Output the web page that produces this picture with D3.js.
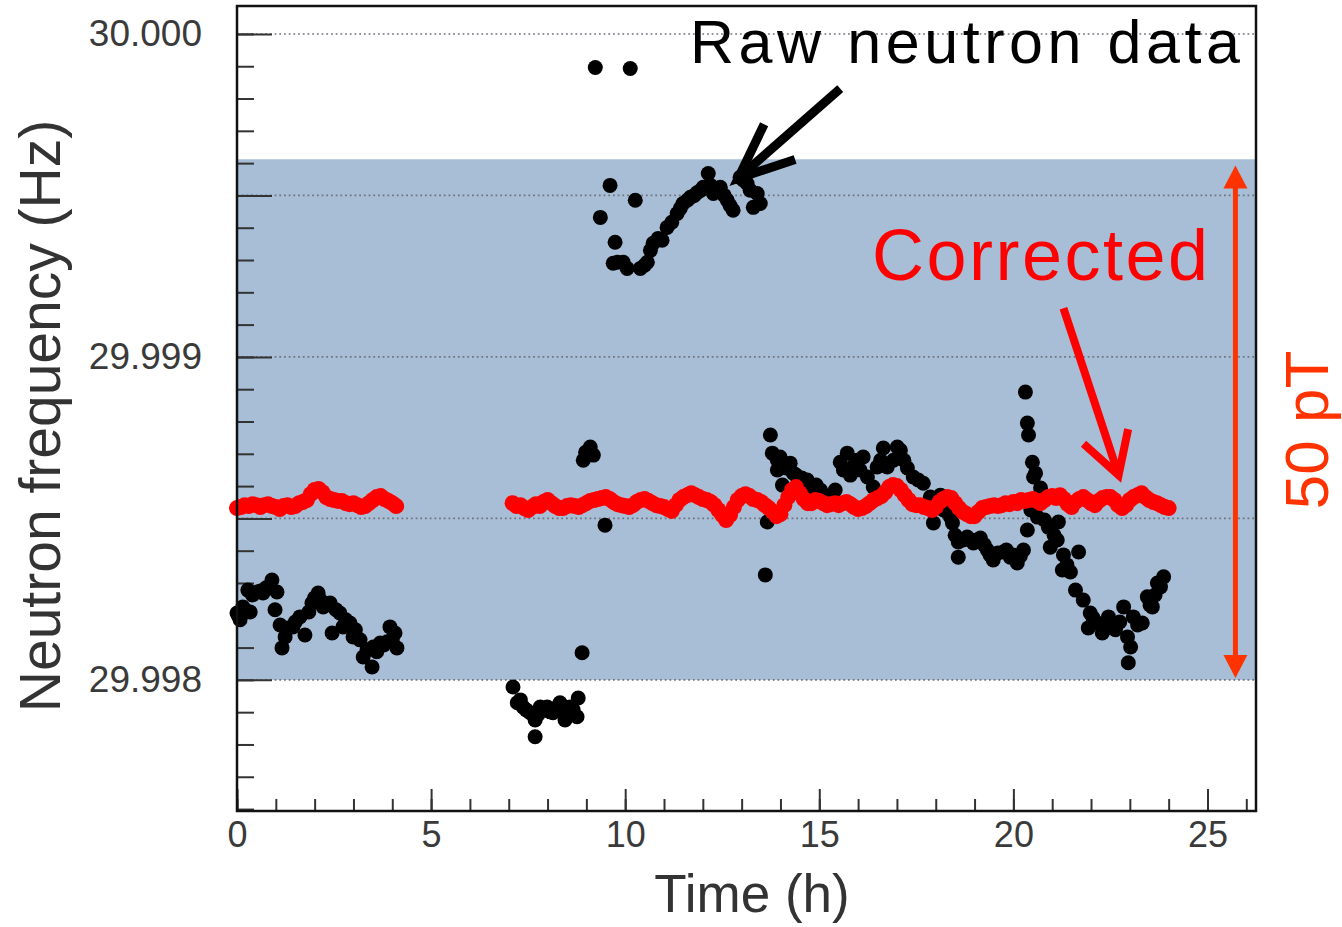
<!DOCTYPE html>
<html><head><meta charset="utf-8">
<script src="https://cdn.jsdelivr.net/npm/d3@7"></script>
<style>html,body{margin:0;padding:0;background:#fff;}svg{display:block;}</style>
</head><body>
<svg id="c" width="1342" height="927"></svg>
<script>
// ---------------- data ----------------
const xTicksMajor = [0, 5, 10, 15, 20, 25];
const xTicksMinor = d3.range(0, 27, 1);
const yTickLabels = [29.998, 29.999, 30.000];
const yGridValues = [29.998, 29.9985, 29.999, 29.9995, 30.000];
const yTicksMinor = d3.range(0, 25).map(i => +(29.9976 + i * 0.0001).toFixed(4));
const bandRange = [29.998, 29.999612];   // 50 pT band

// Raw neutron data [time (h), frequency (Hz)]
const rawA = [[0.00,29.998207],[0.04,29.998198],[0.08,29.998186],[0.15,29.998226],[0.20,29.998217],[0.28,29.998278],[0.34,29.998210],[0.40,29.998263],[0.52,29.998272],[0.60,29.998275],[0.67,29.998269],[0.75,29.998285],[0.90,29.998309],[0.98,29.998217],[1.03,29.998272],[1.11,29.998170],[1.16,29.998099],[1.24,29.998133],[1.30,29.998161],[1.44,29.998164],[1.50,29.998179],[1.62,29.998195],[1.75,29.998139],[1.85,29.998210],[1.93,29.998238],[2.00,29.998254],[2.09,29.998269],[2.15,29.998247],[2.22,29.998226],[2.30,29.998232],[2.40,29.998238],[2.45,29.998145],[2.55,29.998217],[2.65,29.998207],[2.73,29.998164],[2.80,29.998186],[2.91,29.998176],[2.99,29.998133],[3.05,29.998155],[3.17,29.998124],[3.25,29.998071],[3.35,29.998093],[3.48,29.998040],[3.51,29.998102],[3.60,29.998087],[3.69,29.998114],[3.78,29.998108],[3.87,29.998118],[3.94,29.998164],[4.00,29.998124],[4.07,29.998145],[4.12,29.998099]];
const rawB = [[7.11,29.997978],[7.22,29.997929],[7.30,29.997938],[7.37,29.997916],[7.45,29.997907],[7.55,29.997898],[7.68,29.997876],[7.68,29.997824],[7.75,29.997892],[7.81,29.997916],[7.90,29.997907],[7.99,29.997916],[8.07,29.997901],[8.14,29.997898],[8.22,29.997913],[8.32,29.997929],[8.45,29.997876],[8.50,29.997901],[8.58,29.997916],[8.66,29.997907],[8.76,29.997886],[8.79,29.997944],[8.89,29.998084],[8.92,29.998680],[8.98,29.998705],[9.10,29.998721],[9.18,29.998696],[9.48,29.998479]];
const rawC = [[9.23,29.999896],[9.36,29.999432],[9.61,29.999531],[9.69,29.999290],[9.74,29.999355],[9.80,29.999293],[9.95,29.999293],[10.05,29.999274],[10.13,29.999893],[10.26,29.999485],[10.39,29.999274],[10.50,29.999284],[10.57,29.999293],[10.65,29.999330],[10.72,29.999352],[10.85,29.999367],[10.95,29.999361],[11.08,29.999401],[11.20,29.999417],[11.34,29.999444],[11.42,29.999460],[11.49,29.999475],[11.60,29.999485],[11.68,29.999494],[11.78,29.999500],[11.86,29.999509],[11.95,29.999516],[12.01,29.999525],[12.14,29.999568],[12.20,29.999531],[12.27,29.999506],[12.36,29.999516],[12.45,29.999525],[12.55,29.999500],[12.63,29.999485],[12.70,29.999469],[12.78,29.999454],[12.96,29.999556],[13.05,29.999547],[13.14,29.999537],[13.22,29.999516],[13.30,29.999463],[13.40,29.999506],[13.48,29.999475]];
const rawD = [[13.61,29.998325],[13.66,29.998489],[13.74,29.998758],[13.79,29.998702],[13.92,29.998680],[13.92,29.998650],[13.99,29.998690],[14.05,29.998603],[14.07,29.998665],[14.15,29.998656],[14.25,29.998671],[14.33,29.998640],[14.40,29.998634],[14.46,29.998619],[14.55,29.998625],[14.69,29.998619],[14.82,29.998597],[14.92,29.998603],[15.03,29.998588],[15.12,29.998572],[15.21,29.998547],[15.41,29.998588],[15.54,29.998674],[15.62,29.998650],[15.72,29.998702],[15.80,29.998634],[15.90,29.998665],[15.98,29.998680],[16.05,29.998650],[16.13,29.998690],[16.24,29.998628],[16.39,29.998597],[16.49,29.998659],[16.58,29.998680],[16.65,29.998718],[16.75,29.998659],[16.91,29.998680],[17.01,29.998721],[17.09,29.998711],[17.18,29.998680],[17.27,29.998656],[17.42,29.998628],[17.55,29.998619],[17.68,29.998609],[17.86,29.998566],[17.94,29.998486],[18.05,29.998557],[18.12,29.998572],[18.20,29.998526],[18.30,29.998520],[18.38,29.998504],[18.43,29.998486],[18.50,29.998448],[18.58,29.998427],[18.58,29.998380],[18.70,29.998433],[18.81,29.998442],[18.90,29.998433],[18.97,29.998424],[19.06,29.998433],[19.15,29.998439],[19.25,29.998418],[19.33,29.998402],[19.40,29.998387],[19.48,29.998371],[19.60,29.998393],[19.74,29.998396],[19.82,29.998402],[19.92,29.998380],[20.00,29.998387],[20.10,29.998362],[20.18,29.998384],[20.26,29.998402],[20.31,29.998891],[20.36,29.998795],[20.36,29.998464],[20.39,29.998758],[20.45,29.998526],[20.49,29.998674],[20.52,29.998628],[20.57,29.998640],[20.62,29.998504],[20.70,29.998594],[20.80,29.998495],[20.90,29.998473],[20.95,29.998411],[21.05,29.998448],[21.13,29.998433],[21.16,29.998489],[21.26,29.998340],[21.29,29.998387],[21.38,29.998356],[21.47,29.998334],[21.60,29.998278],[21.68,29.998396],[21.80,29.998247],[21.93,29.998161],[21.98,29.998207],[22.05,29.998192],[22.16,29.998176],[22.29,29.998145],[22.38,29.998170],[22.45,29.998195],[22.55,29.998161],[22.63,29.998155],[22.74,29.998179],[22.84,29.998226],[22.94,29.998133],[22.96,29.998053],[23.02,29.998102],[23.09,29.998195],[23.20,29.998170],[23.32,29.998176],[23.45,29.998257],[23.52,29.998232],[23.58,29.998226],[23.65,29.998263],[23.71,29.998300],[23.79,29.998288],[23.87,29.998319]];

// Corrected data [time (h), frequency (Hz)]
const corrA = [[0.0,29.998532],[0.1,29.998535],[0.2,29.998541],[0.3,29.998538],[0.4,29.998544],[0.5,29.998541],[0.6,29.998535],[0.7,29.998541],[0.8,29.998544],[0.9,29.998538],[1.0,29.998535],[1.1,29.998529],[1.2,29.998538],[1.3,29.998541],[1.4,29.998535],[1.5,29.998538],[1.6,29.998547],[1.7,29.998551],[1.8,29.998557],[1.9,29.998575],[2.0,29.998588],[2.1,29.998591],[2.2,29.998581],[2.3,29.998566],[2.4,29.998560],[2.5,29.998557],[2.6,29.998554],[2.7,29.998554],[2.8,29.998547],[2.9,29.998544],[3.0,29.998547],[3.1,29.998541],[3.2,29.998535],[3.3,29.998538],[3.4,29.998547],[3.5,29.998557],[3.6,29.998566],[3.7,29.998569],[3.8,29.998560],[3.9,29.998554],[4.0,29.998547],[4.1,29.998538]];
const corrB = [[7.1,29.998547],[7.2,29.998538],[7.3,29.998541],[7.4,29.998532],[7.5,29.998526],[7.6,29.998535],[7.7,29.998544],[7.8,29.998538],[7.9,29.998551],[8.0,29.998557],[8.1,29.998547],[8.2,29.998538],[8.3,29.998532],[8.4,29.998532],[8.5,29.998538],[8.6,29.998541],[8.7,29.998538],[8.8,29.998535],[8.9,29.998541],[9.0,29.998547],[9.1,29.998554],[9.2,29.998557],[9.3,29.998560],[9.4,29.998563],[9.5,29.998566],[9.6,29.998560],[9.7,29.998551],[9.8,29.998544],[9.9,29.998541],[10.0,29.998538],[10.1,29.998535],[10.2,29.998541],[10.3,29.998551],[10.4,29.998557],[10.5,29.998560],[10.6,29.998554],[10.7,29.998547],[10.8,29.998541],[10.9,29.998538],[11.0,29.998535],[11.1,29.998529],[11.2,29.998523],[11.3,29.998541],[11.4,29.998557],[11.5,29.998566],[11.6,29.998572],[11.7,29.998578],[11.8,29.998572],[11.9,29.998566],[12.0,29.998560],[12.1,29.998557],[12.2,29.998551],[12.3,29.998541],[12.4,29.998526],[12.5,29.998510],[12.6,29.998495],[12.7,29.998510],[12.8,29.998535],[12.9,29.998557],[13.0,29.998569],[13.1,29.998575],[13.2,29.998569],[13.3,29.998560],[13.4,29.998557],[13.5,29.998551],[13.6,29.998541],[13.7,29.998532],[13.8,29.998520],[13.9,29.998507],[14.0,29.998513],[14.1,29.998541],[14.2,29.998566],[14.3,29.998588],[14.4,29.998597],[14.5,29.998578],[14.6,29.998560],[14.7,29.998547],[14.8,29.998547],[14.9,29.998557],[15.0,29.998554],[15.1,29.998547],[15.2,29.998541],[15.3,29.998544],[15.4,29.998547],[15.5,29.998541],[15.6,29.998547],[15.7,29.998551],[15.8,29.998544],[15.9,29.998535],[16.0,29.998529],[16.1,29.998532],[16.2,29.998538],[16.3,29.998547],[16.4,29.998557],[16.5,29.998563],[16.6,29.998569],[16.7,29.998581],[16.8,29.998597],[16.9,29.998603],[17.0,29.998600],[17.1,29.998588],[17.2,29.998572],[17.3,29.998557],[17.4,29.998544],[17.5,29.998541],[17.6,29.998541],[17.7,29.998535],[17.8,29.998532],[17.9,29.998526],[18.0,29.998535],[18.1,29.998551],[18.2,29.998560],[18.3,29.998566],[18.4,29.998563],[18.5,29.998547],[18.6,29.998532],[18.7,29.998520],[18.8,29.998513],[18.9,29.998507],[19.0,29.998507],[19.1,29.998520],[19.2,29.998532],[19.3,29.998535],[19.4,29.998538],[19.5,29.998541],[19.6,29.998538],[19.7,29.998541],[19.8,29.998547],[19.9,29.998544],[20.0,29.998551],[20.1,29.998547],[20.2,29.998557],[20.3,29.998554],[20.4,29.998557],[20.5,29.998560],[20.6,29.998554],[20.7,29.998547],[20.8,29.998557],[20.9,29.998566],[21.0,29.998569],[21.1,29.998563],[21.2,29.998572],[21.3,29.998560],[21.4,29.998544],[21.5,29.998535],[21.6,29.998551],[21.7,29.998560],[21.8,29.998566],[21.9,29.998557],[22.0,29.998547],[22.1,29.998541],[22.2,29.998554],[22.3,29.998563],[22.4,29.998566],[22.5,29.998566],[22.6,29.998557],[22.7,29.998541],[22.8,29.998532],[22.9,29.998541],[23.0,29.998557],[23.1,29.998566],[23.2,29.998572],[23.3,29.998578],[23.4,29.998566],[23.5,29.998557],[23.6,29.998551],[23.7,29.998547],[23.8,29.998541],[23.9,29.998535],[24.0,29.998532]];

const rawData = rawA.concat(rawB, rawC, rawD);
const corrData = corrA.concat(corrB);

// annotation anchors in data units
const rawArrow = {from: [15.54, 29.999831], to: [12.91, 29.999553]};
const corrArrow = {from: [21.29, 29.999151], to: [22.71, 29.998634]};
const spanArrow = {t: 25.72, top: 29.999593, bottom: 29.998006};

// ---------------- drawing ----------------
const svg = d3.select("#c");
const L = 237, R = 1256, T = 6, B = 811;
const x = d3.scaleLinear().domain([0, 26.25]).range([L, R]);
const y = d3.scaleLinear().domain([29.997594, 30.0000865]).range([B, T]);
const font = "'Liberation Sans', Arial, Helvetica, sans-serif";

// band
svg.append("rect").attr("x", L).attr("width", R - L)
  .attr("y", y(bandRange[1])).attr("height", y(bandRange[0]) - y(bandRange[1]))
  .attr("fill", "#a8bed6");

// dotted grid
svg.append("g").selectAll("line").data(yGridValues).join("line")
  .attr("x1", L).attr("x2", R).attr("y1", d => y(d)).attr("y2", d => y(d))
  .attr("stroke", "#6f7680").attr("stroke-width", 1.6).attr("stroke-dasharray", "1.8,2.9");

// y ticks (inside)
const yMinorG = svg.append("g").attr("transform", `translate(${L},0)`)
  .call(d3.axisLeft(y).tickValues(yTicksMinor).tickSize(-17).tickFormat(""));
const yMajorG = svg.append("g").attr("transform", `translate(${L},0)`)
  .call(d3.axisLeft(y).tickValues(yGridValues).tickSize(-35).tickFormat(""));
const yLabG = svg.append("g").attr("transform", `translate(${L},0)`)
  .call(d3.axisLeft(y).tickValues(yTickLabels).tickSize(0).tickPadding(35).tickFormat(d3.format(".3f")));
[yMinorG, yMajorG, yLabG].forEach(g => {
  g.select(".domain").remove();
  g.selectAll(".tick line").attr("stroke", "#333").attr("stroke-width", 2);
});
yLabG.selectAll("text").attr("font-family", font).attr("font-size", 37).attr("fill", "#3a3a3a");

// x ticks (inside, upward)
const xMinorG = svg.append("g").attr("transform", `translate(0,${B})`)
  .call(d3.axisBottom(x).tickValues(xTicksMinor).tickSize(-12).tickFormat(""));
const xMajorG = svg.append("g").attr("transform", `translate(0,${B})`)
  .call(d3.axisBottom(x).tickValues(xTicksMajor).tickSize(-22).tickFormat(""));
const xLabG = svg.append("g").attr("transform", `translate(0,${B})`)
  .call(d3.axisBottom(x).tickValues(xTicksMajor).tickSize(0).tickPadding(10).tickFormat(d3.format("d")));
[xMinorG, xMajorG, xLabG].forEach(g => {
  g.select(".domain").remove();
  g.selectAll(".tick line").attr("stroke", "#333").attr("stroke-width", 2);
});
xLabG.selectAll("text").attr("font-family", font).attr("font-size", 36).attr("fill", "#3a3a3a");

// raw points
svg.append("g").selectAll("circle").data(rawData).join("circle")
  .attr("cx", d => x(d[0])).attr("cy", d => y(d[1])).attr("r", 7.5).attr("fill", "#000");
// corrected points
svg.append("g").selectAll("circle").data(corrData).join("circle")
  .attr("cx", d => x(d[0])).attr("cy", d => y(d[1])).attr("r", 8).attr("fill", "#ff0000");

// frame
svg.append("rect").attr("x", L).attr("y", T).attr("width", R - L).attr("height", B - T)
  .attr("fill", "none").attr("stroke", "#111").attr("stroke-width", 2.5);

// arrows
function arrow(a, color, width, headLen, headAng) {
  const x1 = x(a.from[0]), y1 = y(a.from[1]), x2 = x(a.to[0]), y2 = y(a.to[1]);
  const ang = Math.atan2(y1 - y2, x1 - x2);
  const g = svg.append("g").attr("stroke", color).attr("stroke-width", width).attr("fill", "none");
  g.append("line").attr("x1", x1).attr("y1", y1).attr("x2", x2).attr("y2", y2);
  const p1 = [x2 + headLen * Math.cos(ang + headAng), y2 + headLen * Math.sin(ang + headAng)];
  const p2 = [x2 + headLen * Math.cos(ang - headAng), y2 + headLen * Math.sin(ang - headAng)];
  g.append("path").attr("d", `M${p1}L${x2},${y2}L${p2}`).attr("stroke-linejoin", "miter");
}
arrow(rawArrow, "#000", 9, 60, 23 * Math.PI / 180);
arrow(corrArrow, "#ff0000", 8, 47, 30 * Math.PI / 180);

// 50 pT double arrow
{
  const ax = x(spanArrow.t), yt = y(spanArrow.top), yb = y(spanArrow.bottom);
  const c = "#ff3300", hl = 23, hw = 12;
  svg.append("line").attr("x1", ax).attr("x2", ax).attr("y1", yt + hl - 2).attr("y2", yb - hl + 2)
    .attr("stroke", c).attr("stroke-width", 5);
  svg.append("path").attr("d", `M${ax},${yt}L${ax - hw},${yt + hl}L${ax + hw},${yt + hl}Z`).attr("fill", c);
  svg.append("path").attr("d", `M${ax},${yb}L${ax - hw},${yb - hl}L${ax + hw},${yb - hl}Z`).attr("fill", c);
}

// texts
svg.append("text").attr("x", 690).attr("y", 63).attr("font-family", font).attr("font-size", 61)
  .attr("fill", "#000").attr("textLength", 550).attr("lengthAdjust", "spacing").text("Raw neutron data");
svg.append("text").attr("x", 872).attr("y", 280).attr("font-family", font).attr("font-size", 72)
  .attr("fill", "#ff0000").attr("textLength", 336).attr("lengthAdjust", "spacing").text("Corrected");
svg.append("text").attr("transform", "translate(1328,430) rotate(-90)").attr("text-anchor", "middle")
  .attr("font-family", font).attr("font-size", 62).attr("fill", "#ff3300").text("50 pT");
svg.append("text").attr("transform", "translate(60,416) rotate(-90)").attr("text-anchor", "middle")
  .attr("font-family", font).attr("font-size", 57).attr("fill", "#333").text("Neutron frequency (Hz)");
svg.append("text").attr("x", 752).attr("y", 912).attr("text-anchor", "middle").attr("font-family", font).attr("font-size", 53)
  .attr("fill", "#333").text("Time (h)");
</script>
</body></html>
